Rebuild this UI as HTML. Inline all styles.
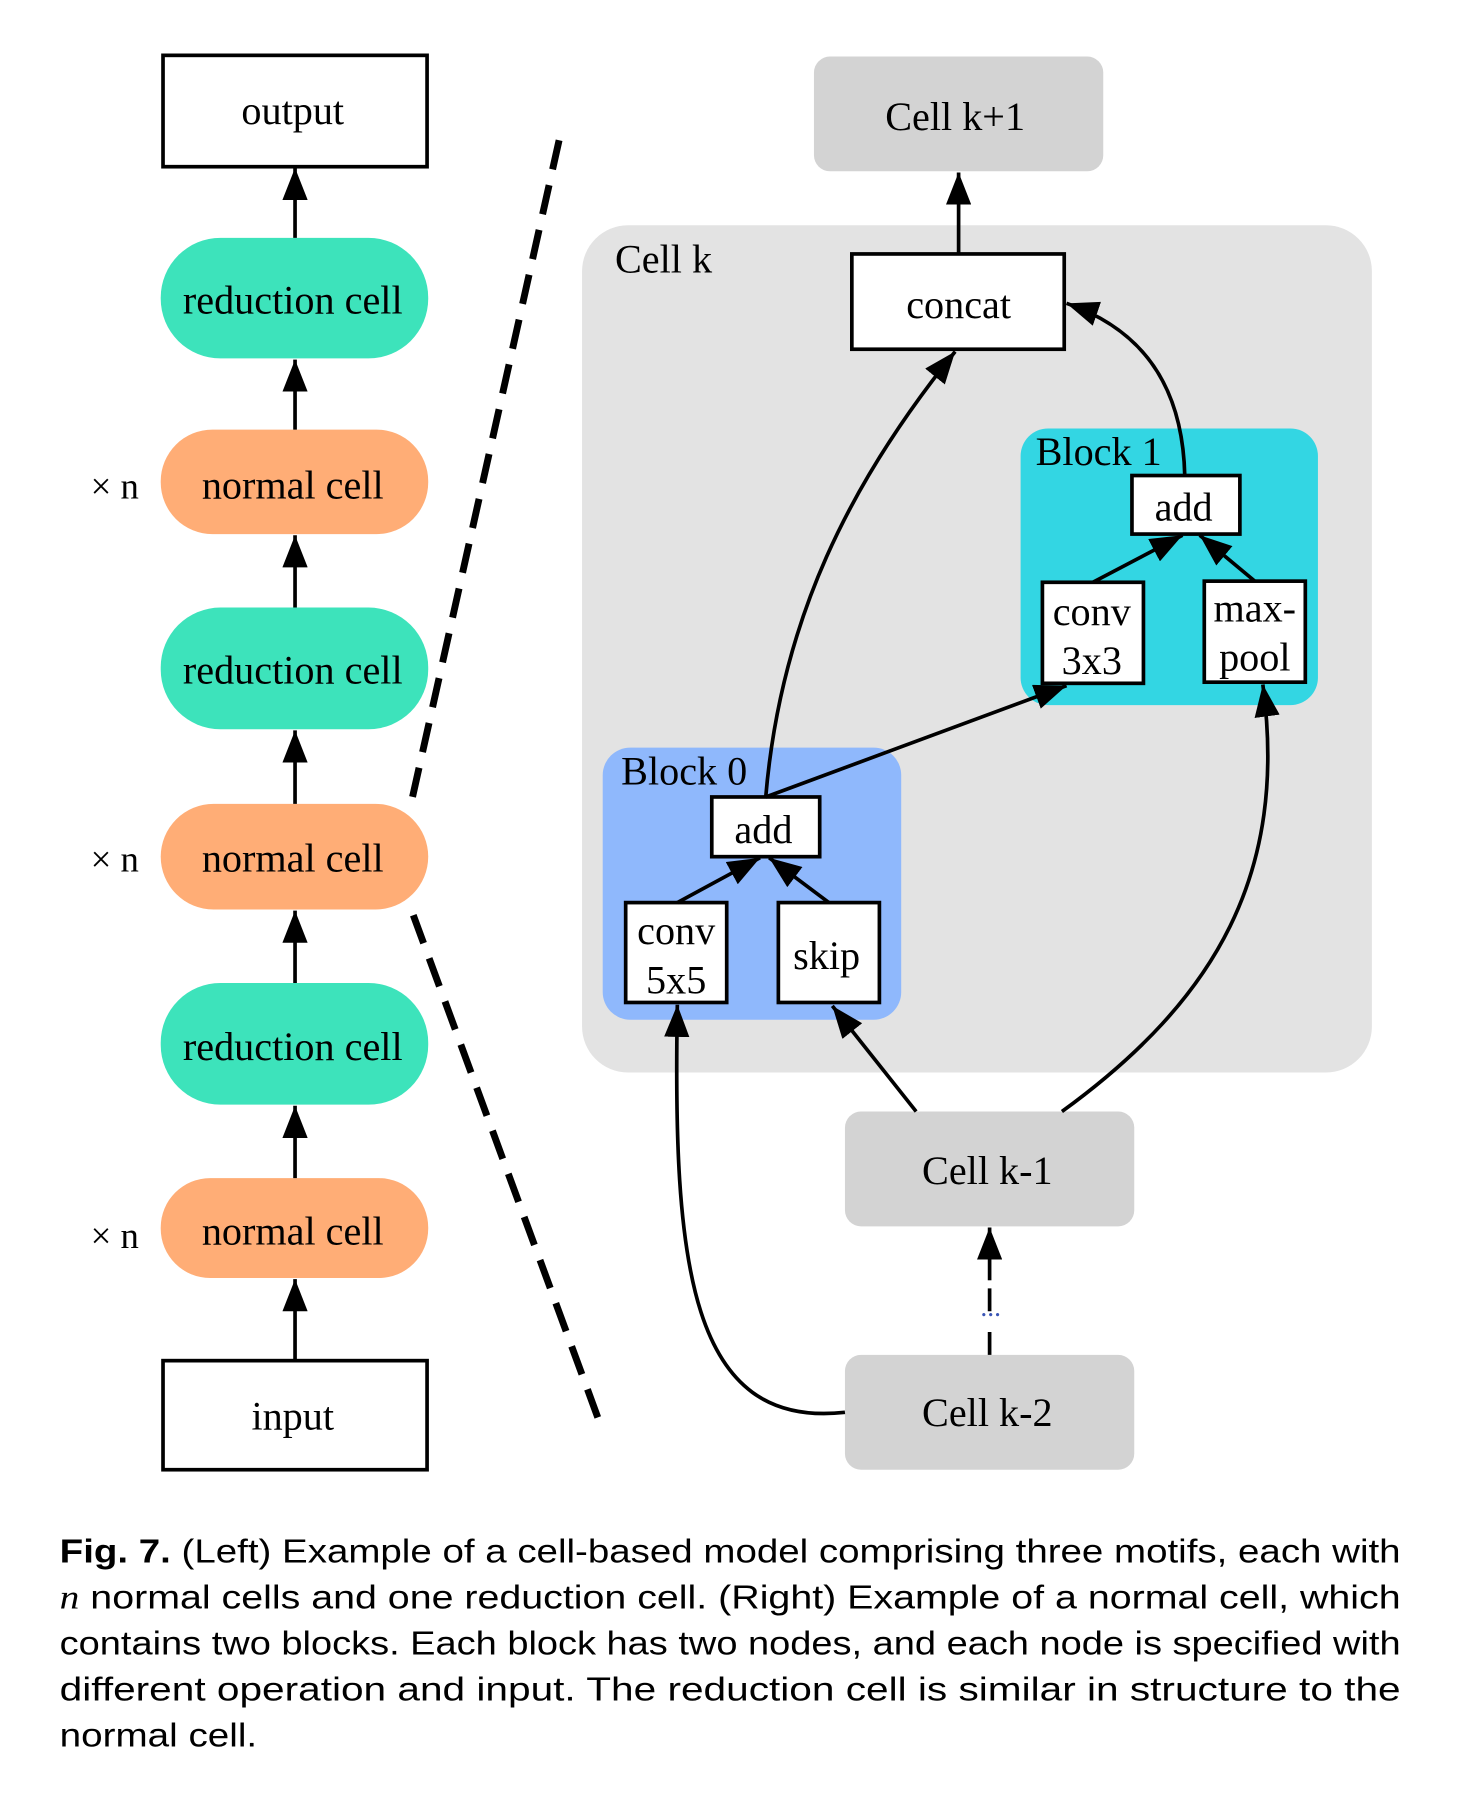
<!DOCTYPE html>
<html><head><meta charset="utf-8"><style>html,body{margin:0;padding:0;background:#fff}svg{display:block}</style></head>
<body>
<svg width="1458" height="1796" viewBox="0 0 1270 1564" xmlns="http://www.w3.org/2000/svg">
<defs>
<marker id="a" viewBox="0 0 28 22" refX="28" refY="11" markerWidth="28" markerHeight="22" markerUnits="userSpaceOnUse" orient="auto"><path d="M0,0 L28,11 L0,22 Z" fill="#000"/></marker>
</defs>
<rect width="1270" height="1564" fill="#fff"/>
<g font-family="Liberation Serif, serif" font-size="35" text-anchor="middle" fill="#000">
<rect x="142" y="48" width="230" height="97" fill="#fff" stroke="#000" stroke-width="3.2"/>
<text x="255" y="108">output</text>
<rect x="140" y="207" width="233" height="105" rx="52" fill="#3de3bb"/>
<text x="255" y="273">reduction cell</text>
<rect x="140" y="374" width="233" height="91" rx="45" fill="#ffad76"/>
<text x="255" y="434">normal cell</text>
<rect x="140" y="529" width="233" height="106" rx="52" fill="#3de3bb"/>
<text x="255" y="595">reduction cell</text>
<rect x="140" y="700" width="233" height="92" rx="46" fill="#ffad76"/>
<text x="255" y="759">normal cell</text>
<rect x="140" y="856" width="233" height="106" rx="52" fill="#3de3bb"/>
<text x="255" y="923">reduction cell</text>
<rect x="140" y="1026" width="233" height="87" rx="43" fill="#ffad76"/>
<text x="255" y="1084">normal cell</text>
<rect x="142" y="1185" width="230" height="95" fill="#fff" stroke="#000" stroke-width="3.2"/>
<text x="255" y="1245">input</text>
<g font-size="32"><text x="100" y="434">× n</text><text x="100" y="759">× n</text><text x="100" y="1087">× n</text></g>
<g stroke="#000" stroke-width="3.2" marker-end="url(#a)">
<line x1="257" y1="207" x2="257" y2="146"/>
<line x1="257" y1="374" x2="257" y2="313"/>
<line x1="257" y1="529" x2="257" y2="466"/>
<line x1="257" y1="700" x2="257" y2="636"/>
<line x1="257" y1="856" x2="257" y2="793"/>
<line x1="257" y1="1026" x2="257" y2="963"/>
<line x1="257" y1="1185" x2="257" y2="1114"/>
</g>
<g stroke="#000" stroke-width="6" stroke-dasharray="26,14" fill="none">
<line x1="487" y1="122" x2="358" y2="700"/>
<line x1="360" y1="797" x2="522" y2="1238"/>
</g>
<rect x="709" y="49" width="252" height="100" rx="14" fill="#d3d3d3"/>
<text x="832" y="113">Cell k+1</text>
<rect x="507" y="196" width="688" height="738" rx="40" fill="#e3e3e3"/>
<text x="578" y="237">Cell k</text>
<rect x="742" y="221" width="185" height="83" fill="#fff" stroke="#000" stroke-width="3.2"/>
<text x="835" y="277">concat</text>
<rect x="889" y="373" width="259" height="241" rx="24" fill="#33d6e3"/>
<text x="957" y="405">Block 1</text>
<rect x="986" y="414" width="94" height="51" fill="#fff" stroke="#000" stroke-width="3.2"/>
<text x="1031" y="453">add</text>
<rect x="908" y="507" width="88" height="88" fill="#fff" stroke="#000" stroke-width="3.2"/>
<text x="951" y="544">conv</text><text x="951" y="587">3x3</text>
<rect x="1049" y="506" width="88" height="88" fill="#fff" stroke="#000" stroke-width="3.2"/>
<text x="1093" y="541">max-</text><text x="1093" y="584">pool</text>
<rect x="525" y="651" width="260" height="237" rx="24" fill="#8fb8fc"/>
<text x="596" y="683">Block 0</text>
<rect x="620" y="694" width="94" height="52" fill="#fff" stroke="#000" stroke-width="3.2"/>
<text x="665" y="734">add</text>
<rect x="545" y="786" width="88" height="87" fill="#fff" stroke="#000" stroke-width="3.2"/>
<text x="589" y="822">conv</text><text x="589" y="865">5x5</text>
<rect x="678" y="786" width="88" height="87" fill="#fff" stroke="#000" stroke-width="3.2"/>
<text x="720" y="844">skip</text>
<rect x="736" y="968" width="252" height="100" rx="14" fill="#d3d3d3"/>
<text x="860" y="1031">Cell k-1</text>
<rect x="736" y="1180" width="252" height="100" rx="14" fill="#d3d3d3"/>
<text x="860" y="1242">Cell k-2</text>
<text x="863" y="1146" fill="#3a55b5" font-size="24">...</text>
<g stroke="#000" stroke-width="3.2" fill="none" marker-end="url(#a)">
<line x1="835" y1="221" x2="835" y2="150"/>
<line x1="952" y1="507" x2="1030" y2="466"/>
<line x1="1093" y1="506" x2="1045" y2="466"/>
<path d="M1032,414 C1030,330 990,285 929,264"/>
<path d="M667,694 C680,540 740,420 832,306"/>
<line x1="667" y1="694" x2="929" y2="597"/>
<line x1="590" y1="786" x2="662" y2="747"/>
<line x1="722" y1="786" x2="670" y2="747"/>
<line x1="798" y1="968" x2="725" y2="876"/>
<path d="M925,968 C1060,870 1122,760 1100,596"/>
<path d="M736,1230 C600,1245 586,1100 590,875"/>
<line x1="862" y1="1115" x2="862" y2="1069"/>
</g>
<line x1="862" y1="1180" x2="862" y2="1112" stroke="#000" stroke-width="3.2" stroke-dasharray="20,18"/>
</g>
<g font-family="Liberation Sans, sans-serif" font-size="29" fill="#000">
<text x="52" y="1361" textLength="1168" lengthAdjust="spacingAndGlyphs"><tspan font-weight="bold">Fig. 7.</tspan>  (Left) Example of a cell-based model comprising three motifs, each with</text>
<text x="52" y="1401" textLength="1168" lengthAdjust="spacingAndGlyphs"><tspan font-style="italic" font-family="Liberation Serif, serif">n</tspan> normal cells and one reduction cell. (Right) Example of a normal cell, which</text>
<text x="52" y="1441" textLength="1168" lengthAdjust="spacingAndGlyphs">contains two blocks. Each block has two nodes, and each node is specified with</text>
<text x="52" y="1481" textLength="1168" lengthAdjust="spacingAndGlyphs">different operation and input. The reduction cell is similar in structure to the</text>
<text x="52" y="1521" textLength="172" lengthAdjust="spacingAndGlyphs">normal cell.</text>
</g>
</svg>
</body></html>
